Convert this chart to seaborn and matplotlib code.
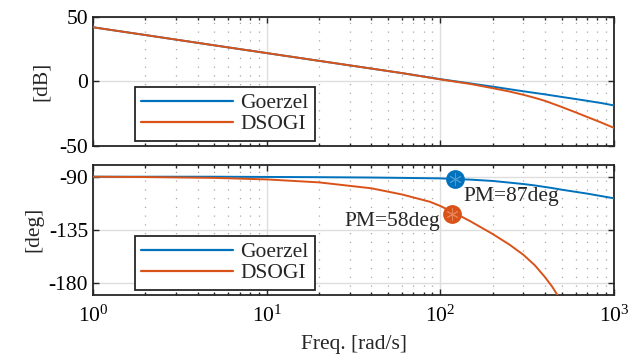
import matplotlib
matplotlib.use("Agg")
import matplotlib.pyplot as plt
import seaborn as sns
import pandas as pd
from matplotlib.ticker import LogLocator, NullFormatter, FixedLocator

# ---------------- data ----------------
freq = [1, 2, 5, 10, 20, 40, 60, 100, 150, 200, 250, 300, 350, 400, 500, 600, 700, 850, 1000]
mag_goerzel = [42, 36, 28, 22, 16, 10, 6.5, 1.8, -1.6, -4.0, -6.0, -7.6, -8.9, -10.0, -12.0,
               -13.6, -15.0, -16.8, -18.6]
mag_dsogi = [42, 36, 28, 22, 16, 10, 6.5, 1.6, -2.0, -5.2, -7.8, -10.3, -12.7, -15.0, -19.8,
             -23.9, -27.5, -32.0, -36.0]

freq_ph = [1, 2, 5, 10, 20, 40, 60, 87, 100, 120, 150, 200, 250, 300, 350, 400, 440, 500,
           700, 1000]
ph_goerzel = [-90, -90, -90, -90.2, -90.4, -90.7, -91.0, -91.3, -91.4, -92.0, -92.5, -93.6,
              -95.0, -96.2, -97.4, -98.7, -99.6, -101.0, -104.3, -108.3]
ph_dsogi = [-90, -90.3, -91.0, -92.3, -94.8, -99.8, -105.0, -111.2, -114.8, -120.5, -128.0,
            -138.5, -147.5, -156.0, -165.0, -175.0, -183.0, -196.0, -230.0, -265.0]

series = ["Goerzel", "DSOGI"]
pm_freq = [121, 116]
pm_phase = [-92.0, -121.8]
pm_text = ["PM=87deg", "PM=58deg"]

mag_ticks = [-50, 0, 50]
ph_ticks = [-180, -135, -90]

# ---------------- style ----------------
sns.set_style("ticks")
plt.rcParams.update({
    "font.family": ["Liberation Serif", "DejaVu Serif"],
    "mathtext.fontset": "custom",
    "mathtext.rm": "Liberation Serif",
    "mathtext.it": "Liberation Serif:italic",
    "axes.unicode_minus": False,
    "font.size": 15,
})

FS = 15.5
colors = {"Goerzel": "#0072BD", "DSOGI": "#D95319"}
light = {"Goerzel": "#4a9ad4", "DSOGI": "#e8845a"}

fig = plt.figure(figsize=(6.35, 3.64), dpi=100)
ax1 = fig.add_axes([0.1465, 0.599, 0.8205, 0.3544])
ax2 = fig.add_axes([0.1465, 0.190, 0.8205, 0.3570], sharex=ax1)

df_mag = pd.DataFrame({"freq": freq * 2,
                       "val": mag_goerzel + mag_dsogi,
                       "method": ["Goerzel"] * len(freq) + ["DSOGI"] * len(freq)})
df_ph = pd.DataFrame({"freq": freq_ph * 2,
                      "val": ph_goerzel + ph_dsogi,
                      "method": ["Goerzel"] * len(freq_ph) + ["DSOGI"] * len(freq_ph)})

for ax, df in ((ax1, df_mag), (ax2, df_ph)):
    sns.lineplot(data=df, x="freq", y="val", hue="method", hue_order=series,
                 palette=colors, linewidth=1.4, ax=ax, legend=True, zorder=3)

# PM markers
for s, f, p in zip(series, pm_freq, pm_phase):
    ax2.plot([f], [p], "o", ms=12.5, color=colors[s], zorder=5, clip_on=False)
    ax2.plot([f], [p], marker=(6, 2, 0), ms=9, color=light[s], mew=0.7, zorder=6,
             linestyle="none")

ax2.text(136, -106.4, pm_text[0], ha="left", va="center", fontsize=FS, zorder=7)
ax2.text(99, -128.2, pm_text[1], ha="right", va="center", fontsize=FS, zorder=7)

for ax in (ax1, ax2):
    ax.set_xscale("log")
    ax.set_xlim(1, 1000)
    ax.xaxis.set_major_locator(LogLocator(base=10, numticks=10))
    ax.xaxis.set_minor_locator(LogLocator(base=10, subs=range(2, 10), numticks=20))
    ax.xaxis.set_minor_formatter(NullFormatter())
    ax.grid(True, which="major", color="#dedede", linewidth=1.0, linestyle="-", zorder=0)
    ax.grid(True, which="minor", axis="x", color="#a8a8a8", linewidth=0.9,
            linestyle=(0, (1, 6)), zorder=0)
    ax.set_axisbelow(True)
    ax.tick_params(which="both", direction="in", top=True, right=True, labelsize=FS,
                   colors="#262626", labelcolor="black", width=1.0)
    ax.tick_params(which="major", length=4)
    ax.tick_params(which="minor", length=2.5)
    for sp in ax.spines.values():
        sp.set_visible(True)
        sp.set_linewidth(1.3)
        sp.set_color("#262626")
    ax.set_xlabel("")
    leg = ax.legend(loc="lower left", bbox_to_anchor=(0.08, 0.04), borderaxespad=0,
                    fontsize=FS, frameon=True, fancybox=False, framealpha=1,
                    edgecolor="#262626", handlelength=4.25, handletextpad=0.35,
                    labelspacing=0.05, borderpad=0.3)
    leg.get_frame().set_linewidth(1.3)
    for line in leg.get_lines():
        line.set_linewidth(1.6)

ax1.set_ylim(-50, 50)
ax1.yaxis.set_major_locator(FixedLocator(mag_ticks))
ax1.set_ylabel("[dB]", fontsize=FS, labelpad=6)
plt.setp(ax1.get_xticklabels(), visible=False)

ax2.set_ylim(-190, -80)
ax2.yaxis.set_major_locator(FixedLocator(ph_ticks))
ax2.set_ylabel("[deg]", fontsize=FS, labelpad=4)
ax2.set_xlabel("Freq. [rad/s]", fontsize=FS, labelpad=6)
ax2.tick_params(axis="x", which="major", pad=8)

fig.savefig("out.png", dpi=100)
